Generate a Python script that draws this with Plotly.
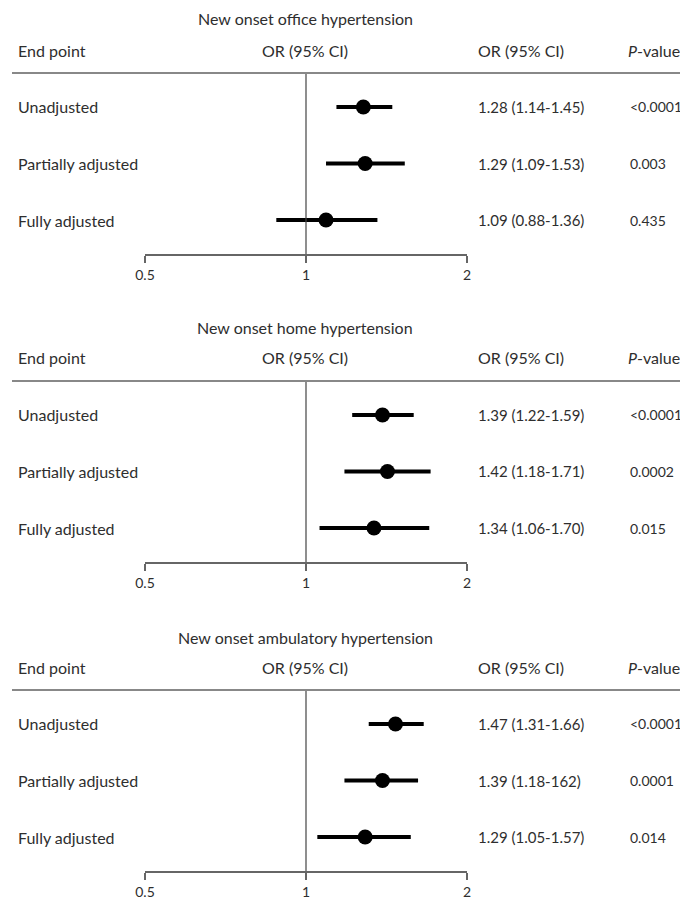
import plotly.graph_objects as go

OFF = 8  # page body margin of the browser
W, H = 688 - OFF, 901 - OFF

panel_titles = ["New onset office hypertension",
                "New onset home hypertension",
                "New onset ambulatory hypertension"]
endpoints = ["Unadjusted", "Partially adjusted", "Fully adjusted"]

or_office = [1.28, 1.29, 1.09]
lo_office = [1.14, 1.09, 0.88]
hi_office = [1.45, 1.53, 1.36]
or_text_office = ["1.28 (1.14-1.45)", "1.29 (1.09-1.53)", "1.09 (0.88-1.36)"]
p_office = ["<0.0001", "0.003", "0.435"]

or_home = [1.39, 1.42, 1.34]
lo_home = [1.22, 1.18, 1.06]
hi_home = [1.59, 1.71, 1.70]
or_text_home = ["1.39 (1.22-1.59)", "1.42 (1.18-1.71)", "1.34 (1.06-1.70)"]
p_home = ["<0.0001", "0.0002", "0.015"]

or_amb = [1.47, 1.39, 1.29]
lo_amb = [1.31, 1.18, 1.05]
hi_amb = [1.66, 1.62, 1.57]
or_text_amb = ["1.47 (1.31-1.66)", "1.39 (1.18-162)", "1.29 (1.05-1.57)"]
p_amb = ["<0.0001", "0.0001", "0.014"]

tick_vals = [0.5, 1, 2]
tick_text = ["0.5", "1", "2"]

panels = [
    (or_office, lo_office, hi_office, or_text_office, p_office),
    (or_home, lo_home, hi_home, or_text_home, p_home),
    (or_amb, lo_amb, hi_amb, or_text_amb, p_amb),
]
hline_px = [73, 381, 690]
title_px = [19, 327, 637]
header_px = [50, 357, 667]

FONT = "Lato"
FS = 16
FN = 15
FP = 14
TXT = "#2e2e2e"
row_y = [3, 2, 1]

def py(p):
    return 1 - (p - OFF) / H

def px(p):
    return (p - OFF) / W

fig = go.Figure()
annotations = []
shapes = []

for i, (ors, los, his, ortxt, ps) in enumerate(panels):
    n = i + 1
    xa = "x" if n == 1 else f"x{n}"
    ya = "y" if n == 1 else f"y{n}"
    top = hline_px[i]
    bottom = top + 181
    fig.add_trace(go.Scatter(
        x=ors, y=row_y, mode="markers",
        marker=dict(color="black", size=15, symbol="circle"),
        error_x=dict(type="data", symmetric=False,
                     array=[h - o for h, o in zip(his, ors)],
                     arrayminus=[o - l for o, l in zip(ors, los)],
                     color="black", thickness=4, width=0),
        xaxis=xa, yaxis=ya, showlegend=False, hoverinfo="skip"))
    fig.update_layout(**{
        ("xaxis" if n == 1 else f"xaxis{n}"): dict(
            type="log", range=[-0.30103, 0.30103],
            domain=[px(145), px(467)], anchor=ya, automargin=False,
            showgrid=False, zeroline=False, showline=True,
            linecolor="#666", linewidth=1.5,
            ticks="outside", ticklen=7, tickwidth=1.5, tickcolor="#666",
            tickvals=tick_vals, ticktext=tick_text, ticklabelstandoff=0,
            tickfont=dict(family=FONT, size=14, color=TXT)),
        ("yaxis" if n == 1 else f"yaxis{n}"): dict(
            range=[0.4, 3.6], domain=[py(bottom), py(top)], automargin=False,
            anchor=xa, visible=False, fixedrange=True),
    })
    shapes.append(dict(type="line", xref=xa, yref="paper",
                       x0=1, x1=1, y0=py(bottom), y1=py(top),
                       line=dict(color="#444", width=1.2)))
    shapes.append(dict(type="line", xref="paper", yref="paper",
                       x0=px(12), x1=1, y0=py(top), y1=py(top),
                       line=dict(color="#888", width=2)))
    annotations.append(dict(text=panel_titles[i], xref="paper", yref="paper",
                            x=px(305), y=py(title_px[i]), xanchor="center",
                            yanchor="middle", showarrow=False,
                            font=dict(family=FONT, size=FS, color=TXT)))
    hy = py(header_px[i])
    for txt, xp, anc in [("End point", 16, "left"), ("OR (95% CI)", 305, "center"),
                         ("OR (95% CI)", 476, "left"), ("<i>P</i>-value", 626, "left")]:
        annotations.append(dict(text=txt, xref="paper", yref="paper", x=px(xp), y=hy,
                                xanchor=anc, yanchor="middle", showarrow=False,
                                font=dict(family=FONT, size=FS, color=TXT)))
    for j in range(3):
        for txt, xp, fs in [(endpoints[j], 16, FS), (ortxt[j], 476, FN), (ps[j], 628, FP)]:
            annotations.append(dict(text=txt, xref="paper", yref=ya, x=px(xp),
                                    y=row_y[j], xanchor="left", yanchor="middle",
                                    showarrow=False,
                                    font=dict(family=FONT, size=fs, color=TXT)))

fig.update_layout(width=W, height=H, margin=dict(l=0, r=0, t=0, b=0, autoexpand=False),
                  paper_bgcolor="white", plot_bgcolor="white",
                  annotations=annotations, shapes=shapes, showlegend=False)
fig.write_html("out.html")
